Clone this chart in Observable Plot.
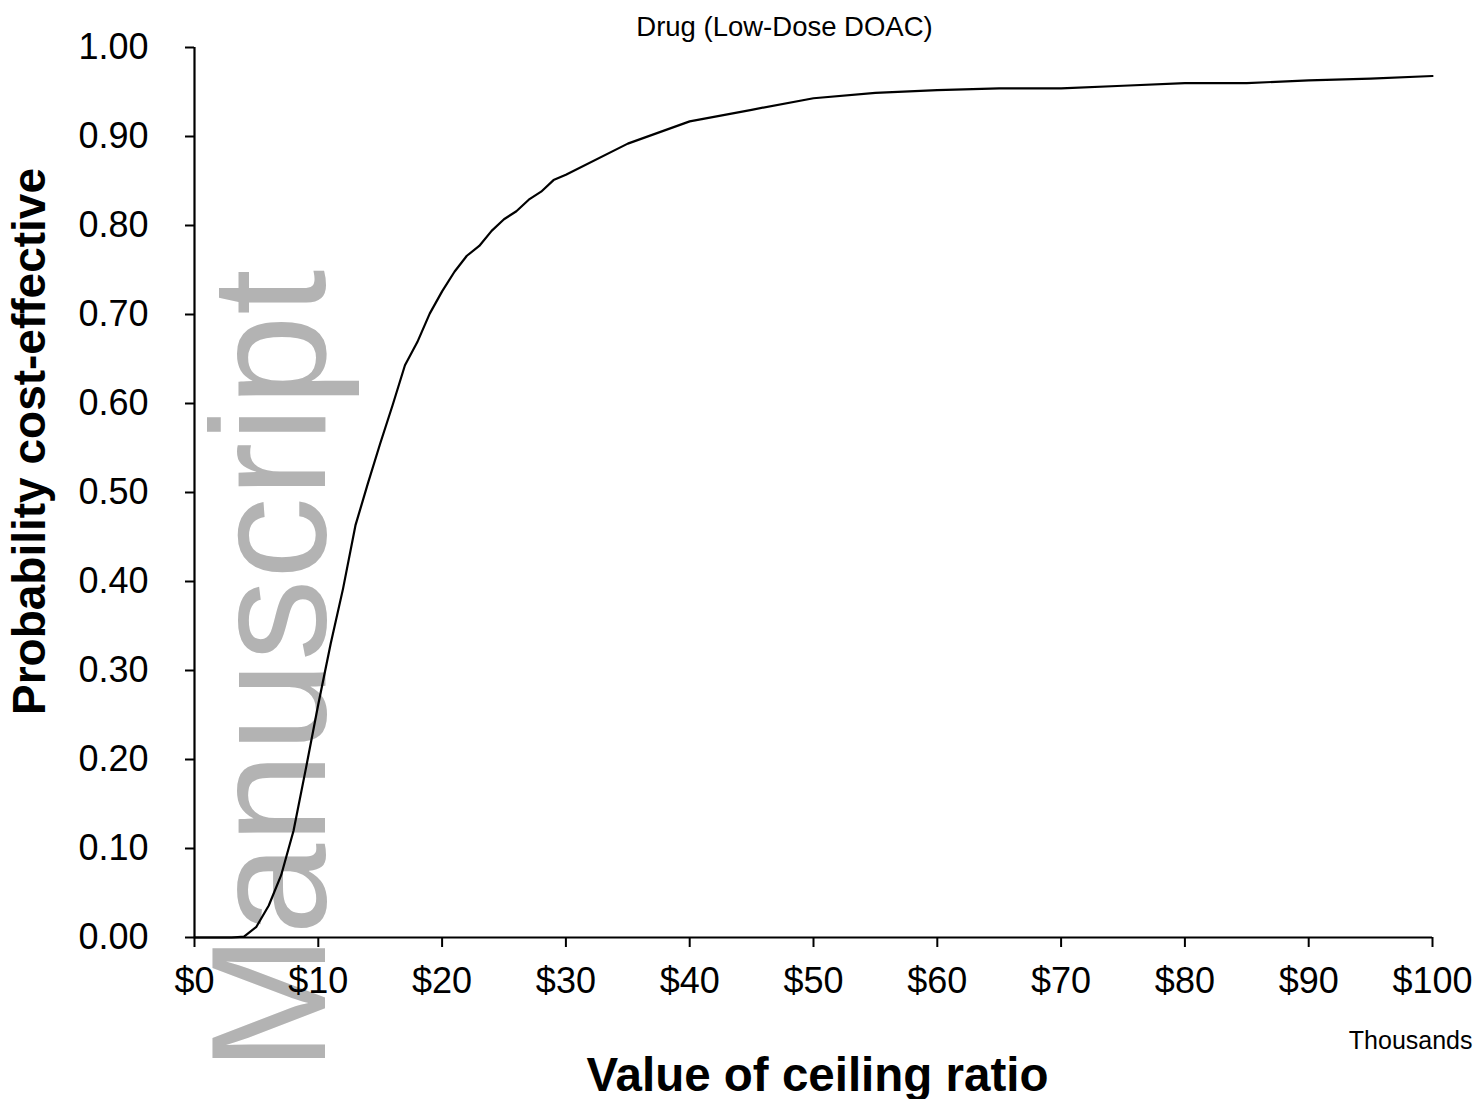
<!DOCTYPE html>
<html>
<head>
<meta charset="utf-8">
<script src="https://cdn.jsdelivr.net/npm/d3@7"></script>
<script src="https://cdn.jsdelivr.net/npm/@observablehq/plot@0.6"></script>
<style>
  html, body { margin: 0; padding: 0; background: #fff; }
  #chart svg { display: block; }
</style>
</head>
<body>
<div id="chart"></div>
<script>
// Cost-effectiveness acceptability curve: low-dose DOAC
// Willingness-to-pay ceiling ratio, in thousands of dollars
const ceilingRatio = [0, 1, 2, 3, 4, 5, 6, 7, 8, 9, 10, 11, 12, 13, 14, 15, 16, 17, 18, 19, 20,
  21, 22, 23, 24, 25, 26, 27, 28, 29, 30, 35, 40, 45, 50, 55, 60, 65, 70, 75, 80, 85, 90, 95, 100];
// Probability that the drug is cost-effective at each ceiling ratio
const probCostEffective = [0, 0, 0, 0, 0.001, 0.012, 0.036, 0.070, 0.120, 0.190, 0.262,
  0.330, 0.392, 0.463, 0.510, 0.555, 0.598, 0.643, 0.669, 0.701, 0.726,
  0.748, 0.766, 0.777, 0.794, 0.807, 0.816, 0.829, 0.838, 0.851, 0.857,
  0.892, 0.917, 0.930, 0.943, 0.949, 0.952, 0.954, 0.954, 0.957, 0.960, 0.960, 0.963, 0.965, 0.968];

const xTicks = [0, 10, 20, 30, 40, 50, 60, 70, 80, 90, 100];
const yTicks = [0, 0.1, 0.2, 0.3, 0.4, 0.5, 0.6, 0.7, 0.8, 0.9, 1.0];

const chartTitle = "Drug (Low-Dose DOAC)";
const xTitle = "Value of ceiling ratio";
const yTitle = "Probability cost-effective";
const unitNote = "Thousands";
const watermark = "Manuscript";

const rows = ceilingRatio.map((x, i) => ({x, p: probCostEffective[i]}));

const font = "Liberation Sans, Arial, Helvetica, sans-serif";

const chart = Plot.plot({
  width: 1481,
  height: 1099,
  marginTop: 47,
  marginBottom: 162,
  marginLeft: 194,
  marginRight: 49,
  style: {fontFamily: font, background: "#fff", overflow: "visible"},
  x: {domain: [0, 100]},
  y: {domain: [0, 1]},
  marks: [
    // watermark behind everything
    Plot.text([watermark], {
      frameAnchor: "bottom-left", rotate: -90, textAnchor: "start", lineAnchor: "bottom",
      dx: 130, dy: 134, fontSize: 164, fill: "#b3b3b3", fontFamily: font
    }),
    Plot.line(rows, {x: "x", y: "p", stroke: "#000", strokeWidth: 2.2}),
    Plot.ruleX([0], {stroke: "#000", strokeWidth: 2.2}),
    Plot.ruleY([0], {stroke: "#000", strokeWidth: 2.2}),
    Plot.axisY({
      ticks: yTicks, tickFormat: d3.format(".2f"), tickSize: 9, tickPadding: 37,
      fontSize: 36, label: null, stroke: "#000", strokeWidth: 2, color: "#000"
    }),
    Plot.axisX({
      ticks: xTicks, tickFormat: d => "$" + d, tickSize: 10, tickPadding: 20,
      fontSize: 36, label: null, stroke: "#000", strokeWidth: 2, color: "#000"
    }),
    Plot.text([chartTitle], {
      frameAnchor: "top", lineAnchor: "bottom", dx: -29, dy: -12,
      fontSize: 27.5, fill: "#000"
    }),
    Plot.text([yTitle], {
      frameAnchor: "left", rotate: -90, lineAnchor: "bottom", textAnchor: "middle",
      dx: -150, dy: -51, fontSize: 46, fontWeight: "bold", fill: "#000"
    }),
    Plot.text([xTitle], {
      frameAnchor: "bottom", lineAnchor: "bottom", dx: 4, dy: 153,
      fontSize: 47.5, fontWeight: "bold", fill: "#000"
    }),
    Plot.text([unitNote], {
      frameAnchor: "bottom-right", textAnchor: "end", lineAnchor: "bottom", dx: 40, dy: 111,
      fontSize: 25, fill: "#000"
    })
  ]
});

document.getElementById("chart").appendChild(chart);
</script>
</body>
</html>
